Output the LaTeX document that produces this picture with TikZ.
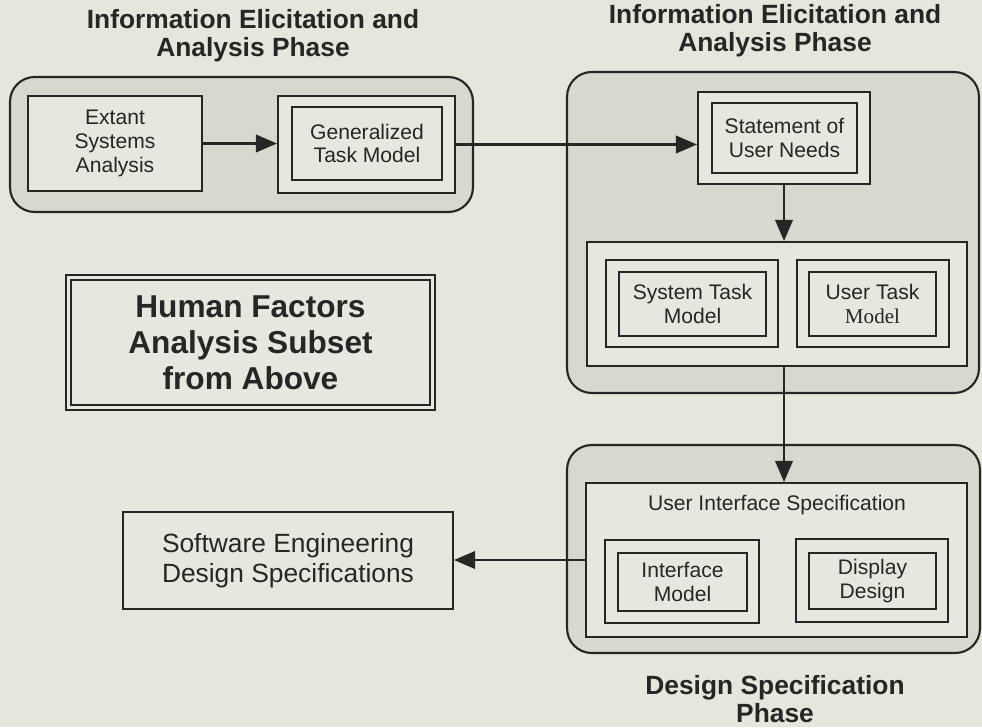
\documentclass[tikz,border=0pt]{standalone}
\usepackage{fontspec}
\setmainfont{Liberation Sans}
\newfontfamily\timesfont{Liberation Serif}
\usetikzlibrary{arrows.meta,positioning,calc}
\definecolor{paper}{HTML}{E6E6DC}
\definecolor{phasegray}{HTML}{D8D8CF}
\definecolor{boxfill}{HTML}{E7E7DF}
\definecolor{ink}{HTML}{262626}

\begin{document}
\begin{tikzpicture}[x=0.02cm, y=-0.02cm,
  phase/.style={draw=ink, fill=phasegray, rounded corners=14pt, line width=1.2pt, inner sep=0pt},
  outerbox/.style={draw=ink, fill=boxfill, line width=1.2pt, inner sep=0pt},
  taskbox/.style={draw=ink, fill=boxfill, line width=1.2pt, inner sep=0pt, align=center, text=ink,
    font=\fontsize{12}{13.6}\selectfont},
  phasetitle/.style={font=\fontsize{15}{16}\selectfont\bfseries, align=center, text=ink},
  flow/.style={draw=ink, line width=1.2pt, -{Triangle[length=12pt,width=10pt]}},
]
\useasboundingbox (0,0) rectangle (982,727);
\fill[paper] (0,0) rectangle (982,727);

% ELICITATION — left phase
\node[phasetitle] (titleA) at (253,36) {Information Elicitation and\\Analysis Phase};
\node[phase, minimum width=9.26cm, minimum height=2.70cm] (phaseA) at (241.5,144.5) {};
\node[taskbox, minimum width=3.48cm, minimum height=1.90cm] (extant) at (115,143.5) {Extant\\Systems\\Analysis};
\node[outerbox, minimum width=3.54cm, minimum height=1.94cm] (genout) at (366.5,144.5) {};
\node[taskbox, minimum width=3.00cm, minimum height=1.46cm] (gen) at (367,143.5) {Generalized\\Task Model};

% ELICITATION — right phase
\node[phasetitle] (titleB) at (775,31) {Information Elicitation and\\Analysis Phase};
\node[phase, minimum width=8.24cm, minimum height=6.42cm] (phaseB) at (773,232.5) {};
\node[outerbox, minimum width=3.44cm, minimum height=1.84cm] (stmtout) at (784,138) {};
\node[taskbox, minimum width=2.90cm, minimum height=1.40cm] (stmt) at (784.5,138) {Statement of\\User Needs};
\node[outerbox, minimum width=7.60cm, minimum height=2.48cm] (models) at (777,304) {};
\node[outerbox, minimum width=3.44cm, minimum height=1.74cm] (sysout) at (692,303.5) {};
\node[taskbox, minimum width=2.94cm, minimum height=1.28cm] (sys) at (692.5,304) {System Task\\Model};
\node[outerbox, minimum width=3.04cm, minimum height=1.74cm] (userout) at (873,303.5) {};
\node[taskbox, minimum width=2.54cm, minimum height=1.28cm] (user) at (872.5,304) {User Task\\{\timesfont Model}};

% DESIGN — lower phase
\node[phase, minimum width=8.26cm, minimum height=4.16cm] (phaseC) at (773.5,549) {};
\node[outerbox, minimum width=7.62cm, minimum height=3.08cm] (uis) at (776.5,560) {};
\node[text=ink, font=\fontsize{12}{13.6}\selectfont] (uislabel) at (777,505) {User Interface Specification};
\node[outerbox, minimum width=3.08cm, minimum height=1.66cm] (ifout) at (682,581.5) {};
\node[taskbox, minimum width=2.58cm, minimum height=1.16cm] (iface) at (682.5,582) {Interface\\Model};
\node[outerbox, minimum width=3.04cm, minimum height=1.66cm] (dispout) at (872,580.5) {};
\node[taskbox, minimum width=2.54cm, minimum height=1.12cm] (disp) at (872.5,581) {Display\\Design};
\node[phasetitle] (titleC) at (775,699) {Design Specification\\Phase};

% Left side boxes
\node[outerbox, minimum width=7.38cm, minimum height=2.70cm] (hfout) at (250.5,342.5) {};
\node[taskbox, minimum width=7.18cm, minimum height=2.50cm, font=\fontsize{18}{20.4}\selectfont\bfseries] (hf) at (250.5,342.5) {Human Factors\\Analysis Subset\\from Above};
\node[taskbox, minimum width=6.60cm, minimum height=1.94cm, font=\fontsize{15}{17}\selectfont] (swe) at (288,560.5) {Software Engineering\\Design Specifications};

% Flow
\draw[flow] (extant.east) -- (extant.east -| genout.west);
\draw[flow] (genout.east) -- (genout.east -| stmtout.west);
\draw[flow] (stmtout.south) -- (stmtout.south |- models.north);
\draw[flow] (stmtout.south |- models.south) -- (stmtout.south |- uis.north);
\draw[flow] (uis.west) -- (uis.west -| swe.east);

\end{tikzpicture}
\end{document}
